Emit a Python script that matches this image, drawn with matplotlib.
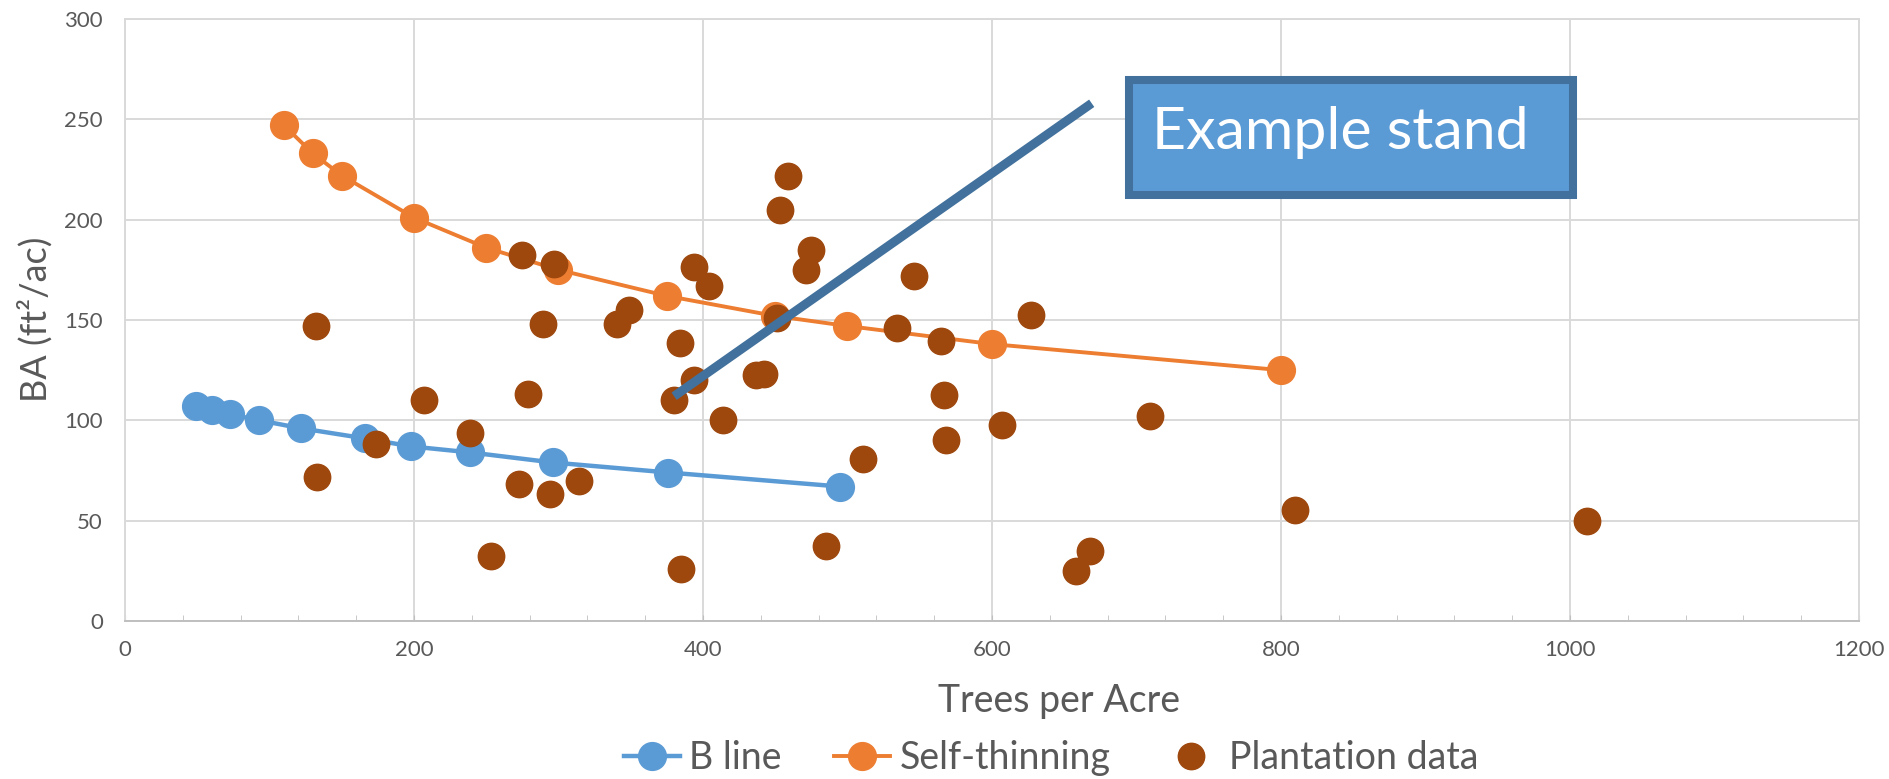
import matplotlib
matplotlib.use("Agg")
import matplotlib.pyplot as plt
from matplotlib.lines import Line2D
from matplotlib.patches import Rectangle
from matplotlib.ticker import MultipleLocator

plt.rcParams["font.family"] = ["Lato", "DejaVu Sans"]

# B line
b_tpa = [49, 60, 73, 93, 122, 166, 198, 239, 296, 376, 495]
b_ba = [107, 105, 103, 100, 96, 91, 87, 84, 79, 74, 67]

# Self-thinning line
st_tpa = [110, 130, 150, 200, 250, 300, 375, 450, 500, 600, 800]
st_ba = [247, 233, 222, 201, 186, 175, 162, 152, 147, 138, 125]

# Plantation data
pl_tpa = [132, 133, 174, 207, 239, 253, 273, 275, 279, 289.5, 294, 297, 314,
          340.5, 349, 380, 384, 385, 393.5, 394, 404, 414, 437, 442, 451, 453,
          459, 471, 475, 485, 511, 534, 546, 565, 567, 568, 607, 627, 658, 668,
          709, 810, 1012]
pl_ba = [147, 72, 88, 110, 93.5, 32.6, 68.4, 182.5, 113, 148, 63.4, 178, 69.7,
         148, 155, 110, 138.5, 25.8, 120, 176.6, 167, 100, 122.5, 123, 151, 205,
         222, 175, 185, 37.4, 80.5, 146, 172, 139.3, 112.7, 90, 97.5, 152.7, 24.7,
         35, 102, 55.3, 49.8]

# Example stand trajectory
ex_tpa = [380, 669]
ex_ba = [112, 258]

BLUE = "#5B9BD5"
ORANGE = "#ED7D31"
BROWN = "#9E480E"
DARKBLUE = "#41719C"
GRID = "#D9D9D9"
TEXT = "#595959"

W, H = 1890, 779
fig = plt.figure(figsize=(W / 100, H / 100), dpi=100)
ax = fig.add_axes([125 / W, 1 - 621 / H, 1734 / W, 602 / H])

ax.plot(b_tpa, b_ba, color=BLUE, lw=3.2, marker="o", ms=20, mec=BLUE, zorder=3)
ax.plot(st_tpa, st_ba, color=ORANGE, lw=2.8, marker="o", ms=20, mec=ORANGE, zorder=3)
ax.plot(pl_tpa, pl_ba, ls="none", marker="o", ms=19, color=BROWN, mec=BROWN, zorder=4)
ax.plot(ex_tpa, ex_ba, color=DARKBLUE, lw=6.5, solid_capstyle="butt", zorder=5)

ax.set_xlim(0, 1200)
ax.set_ylim(0, 300)
ax.xaxis.set_major_locator(MultipleLocator(200))
ax.xaxis.set_minor_locator(MultipleLocator(40))
ax.yaxis.set_major_locator(MultipleLocator(50))
ax.grid(True, which="major", color=GRID, lw=1.4, zorder=0)
ax.set_axisbelow(True)
for s in ax.spines.values():
    s.set_color(GRID)
    s.set_linewidth(1.4)
ax.spines["bottom"].set_color("#BFBFBF")
ax.tick_params(axis="x", which="both", direction="in", length=4, color="#BFBFBF",
               labelsize=16, labelcolor=TEXT, pad=14)
ax.tick_params(axis="y", length=0, labelsize=16, labelcolor=TEXT, pad=16)

fig.text(35 / W, 1 - 319 / H, "BA (ft²/ac)", rotation=90, ha="center",
         va="center", fontsize=26, color=TEXT)
fig.text(1059 / W, 1 - 712 / H, "Trees per Acre", ha="center", va="baseline",
         fontsize=27, color=TEXT)

handles = [
    Line2D([], [], color=BLUE, lw=3.2, marker="o", ms=20),
    Line2D([], [], color=ORANGE, lw=2.8, marker="o", ms=20),
    Line2D([], [], ls="none", marker="o", ms=19, color=BROWN),
]
fig.legend(handles, ["B line", "Self-thinning", "Plantation data"],
           loc="center", bbox_to_anchor=(1051 / W, 1 - 758 / H), ncol=3,
           frameon=False, fontsize=27, handlelength=1.5, handletextpad=0.25,
           columnspacing=1.4, labelcolor=TEXT, borderpad=0)

# annotation box
fig.patches.append(Rectangle((1129 / W, 1 - 195 / H), 444 / W, 115 / H,
                             transform=fig.transFigure, facecolor=BLUE,
                             edgecolor=DARKBLUE, lw=5.8, zorder=6))
fig.text(1152 / W, 1 - 149 / H, "Example stand", ha="left", va="baseline",
         fontsize=42.5, color="white", zorder=7)

fig.savefig("out.png", dpi=100)
